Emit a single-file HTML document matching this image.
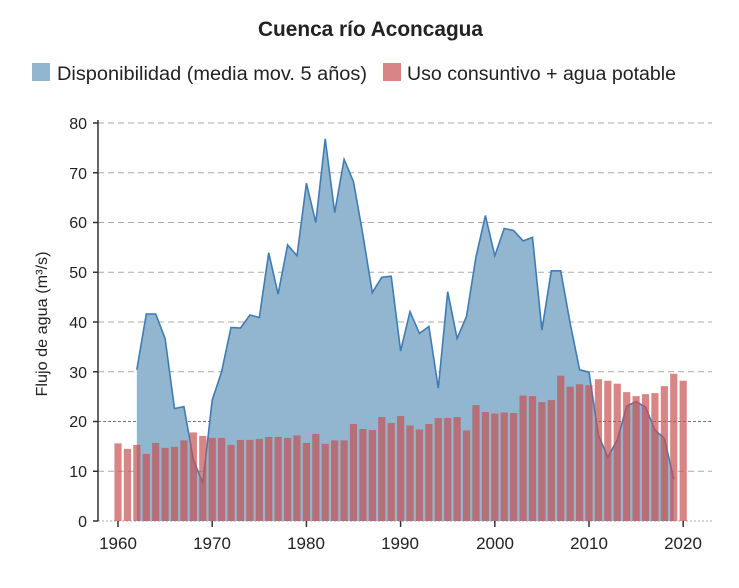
<!DOCTYPE html>
<html><head><meta charset="utf-8"><style>
body{margin:0;background:#fff;width:739px;height:583px;overflow:hidden;font-family:"Liberation Sans",sans-serif}
</style></head><body>
<svg id="s" width="739" height="583" xmlns="http://www.w3.org/2000/svg" font-family="Liberation Sans, sans-serif">
<text x="258" y="36" textLength="225" lengthAdjust="spacingAndGlyphs" font-size="21" font-weight="bold" fill="#222">Cuenca río Aconcagua</text>
<rect x="32" y="63" width="18" height="18" fill="#92b5d0"/>
<text x="57" y="80" textLength="310" lengthAdjust="spacingAndGlyphs" font-size="19" fill="#222">Disponibilidad (media mov. 5 años)</text>
<rect x="383" y="63" width="18" height="18" fill="#d98585"/>
<text x="407" y="80" textLength="269" lengthAdjust="spacingAndGlyphs" font-size="19" fill="#222">Uso consuntivo + agua potable</text>
<text transform="translate(47,324) rotate(-90)" text-anchor="middle" textLength="145" lengthAdjust="spacingAndGlyphs" font-size="16" fill="#222">Flujo de agua  (m³/s)</text>
<g id="grid"></g>
<g id="area"></g>
<g id="bars"></g>
<g id="axes" stroke="#333" stroke-width="1.5"></g>
<g font-size="16" fill="#222" text-anchor="end">
<text x="87" y="527">0</text><text x="87" y="477">10</text><text x="87" y="427">20</text><text x="87" y="378">30</text><text x="87" y="328">40</text><text x="87" y="278">50</text><text x="87" y="228">60</text><text x="87" y="179">70</text><text x="87" y="129">80</text>
</g>
<g font-size="17" fill="#222" text-anchor="middle">
<text x="118" y="549">1960</text><text x="212" y="549">1970</text><text x="306" y="549">1980</text><text x="400" y="549">1990</text><text x="495" y="549">2000</text><text x="589" y="549">2010</text><text x="683" y="549">2020</text>
</g>
</svg>
<script>
var NS="http://www.w3.org/2000/svg";
function X(y){return 118+(y-1960)*9.42}
function Y(v){return 521-v*4.975}
function el(t,a,p){var e=document.createElementNS(NS,t);for(var k in a)e.setAttribute(k,a[k]);document.getElementById(p).appendChild(e);return e}
for(var v=10;v<=80;v+=10)el("line",{x1:98,x2:712,y1:Y(v),y2:Y(v),stroke:v==20?"#777":"#aaa","stroke-dasharray":v==20?"3,2":"6,4","stroke-width":1},"grid");
el("line",{x1:98,x2:712,y1:521,y2:521,stroke:"#aaa","stroke-dasharray":"2,2","stroke-width":1},"grid");
var line=[30.4,41.6,41.6,36.7,22.6,23.0,12.3,7.6,24.3,30.0,38.9,38.8,41.4,40.9,53.9,45.6,55.5,53.3,67.9,60.0,76.8,62.0,72.7,68.2,57.5,45.9,49.0,49.2,34.2,42.1,37.7,39.1,26.7,46.1,36.7,41.1,53.1,61.4,53.3,58.8,58.4,56.3,57.0,38.4,50.3,50.3,39.7,30.4,29.9,17.3,12.8,16.3,23.1,24.0,22.9,18.3,16.6,8.4];
var bars=[15.6,14.5,15.3,13.5,15.7,14.7,14.9,16.2,17.8,17.1,16.7,16.7,15.3,16.3,16.3,16.5,16.9,16.9,16.7,17.2,15.7,17.5,15.5,16.2,16.2,19.5,18.5,18.3,20.9,19.7,21.1,19.2,18.4,19.5,20.7,20.7,20.9,18.2,23.3,21.9,21.6,21.8,21.7,25.2,25.1,23.9,24.3,29.2,27.0,27.5,27.3,28.5,28.2,27.6,25.9,25.1,25.5,25.7,27.1,29.6,28.2];
var pts=[];
for(var i=0;i<line.length;i++)pts.push(X(1962+i).toFixed(1)+","+Y(line[i]).toFixed(1));
el("path",{d:"M"+X(1962)+",521L"+pts.join("L")+"L"+X(2019)+",521Z",fill:"#92b5d0"},"area");
el("path",{d:"M"+pts.join("L"),fill:"none",stroke:"#3f7cb4","stroke-width":1.6},"area");
for(var i=0;i<bars.length;i++)el("rect",{x:X(1960+i)-3.6,y:Y(bars[i]),width:7.2,height:bars[i]*4.975,fill:"rgb(200,81,81)","fill-opacity":0.7},"bars");
el("line",{x1:98,x2:98,y1:120,y2:521},"axes");
for(var v=0;v<=80;v+=10)el("line",{x1:93,x2:98,y1:Y(v),y2:Y(v)},"axes");
for(var y=1960;y<=2020;y+=10)el("line",{x1:X(y),x2:X(y),y1:521,y2:527},"axes");
</script>
</body></html>
